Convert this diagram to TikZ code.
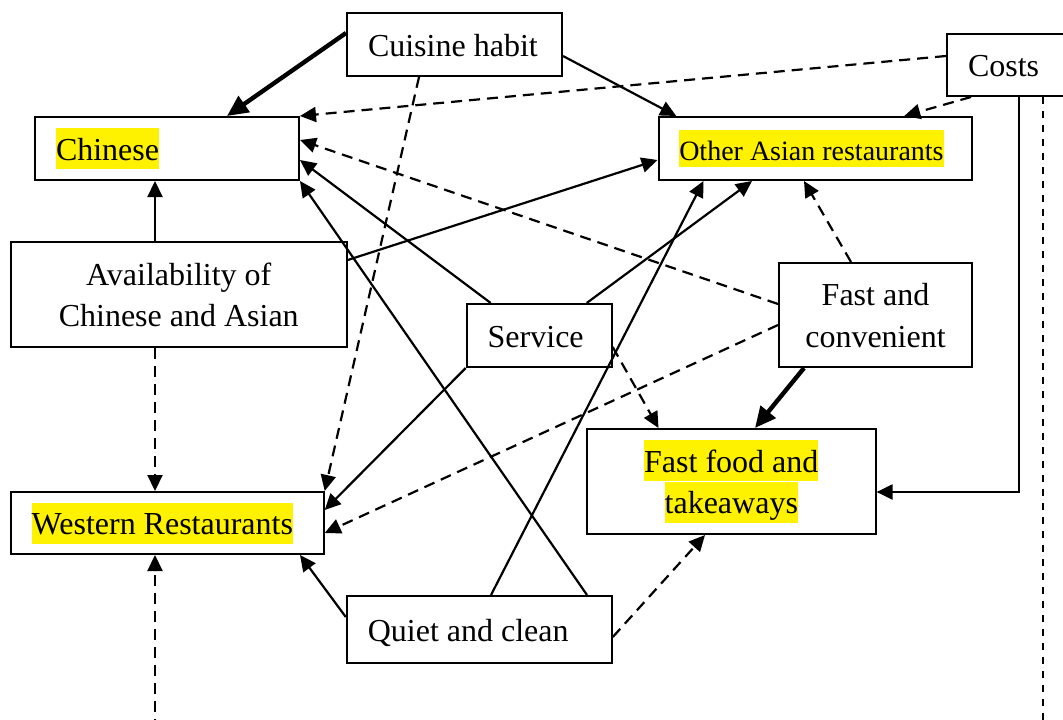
\documentclass[tikz,border=0pt]{standalone}
\usepackage{fontspec}
\setmainfont{Liberation Serif}
\usetikzlibrary{arrows.meta}

% one line of box text: fixed height and depth so every box sets its first baseline alike
\newcommand\sline{\rule[-9pt]{0pt}{41pt}}
% highlighted text (yellow marker)
\newcommand\hlt[1]{{\setlength{\fboxsep}{0pt}\colorbox{yellow}{\sline#1}}}
\newcommand\hlts[1]{{\setlength{\fboxsep}{0pt}\colorbox{yellow}{\rule[-6.7pt]{0pt}{37.7pt}#1}}}

\begin{document}
\begin{tikzpicture}[x=1pt,y=-1pt,
  box/.style={draw, line width=2pt, fill=white, inner sep=0pt, align=flush center,
              font=\fontsize{32}{41.5}\selectfont},
  leftbox/.style={box, align=flush left},
  link/.style={line width=2.2pt, -{Triangle[length=16pt,width=15pt]}},
  strong/.style={line width=4.4pt, -{Triangle[length=21pt,width=19pt]}},
  weak/.style={link, dash pattern=on 11pt off 7pt},
  faint/.style={line width=1.6pt, dash pattern=on 7pt off 7pt},
  ]
\clip (0,0) rectangle (1063,720);
\fill[white] (0,0) rectangle (1063,720);

% factors and restaurant types
\node[leftbox, minimum width=215pt, minimum height=63pt, text width=173pt] (cuisine) at (454.5,44.5) {\sline Cuisine habit};
\node[leftbox, minimum width=133pt, minimum height=62pt, text width=91pt] (costs) at (1013.5,65) {\sline Costs};
\node[leftbox, minimum width=264pt, minimum height=63pt, text width=222pt] (chinese) at (167,148.5) {\hlt{Chinese}};
\node[leftbox, font=\fontsize{28}{36}\selectfont, minimum width=313.5pt, minimum height=63pt, text width=272pt] (other) at (815.25,148.5) {\hlts{Other Asian restaurants}};
\node[box, minimum width=336pt, minimum height=105pt] (avail) at (178.75,294.5) {\sline Availability of\\\sline Chinese and Asian};
\node[leftbox, minimum width=145pt, minimum height=63pt, text width=103pt] (service) at (539.2,335.5) {\sline Service};
\node[box, minimum width=193pt, minimum height=104pt] (fastconv) at (875.5,315) {\sline Fast and\\\sline convenient};
\node[box, minimum width=288.6pt, minimum height=105pt] (fastfood) at (731.3,481.5) {\hlt{Fast food and}\\\hlt{takeaways}};
\node[leftbox, minimum width=313pt, minimum height=62pt, text width=271pt] (western) at (167.2,523) {\hlt{Western Restaurants}};
\node[leftbox, minimum width=265pt, minimum height=67pt, text width=223pt] (quiet) at (479.3,629.5) {\sline Quiet and clean};

% free ends running off the lower edge
\coordinate (costsend) at (1043,730);
\coordinate (westbase) at (155,730);

% influences
\draw[strong] ([yshift=11.5pt]cuisine.west) -- ([xshift=60pt]chinese.north);
\draw[weak] ([yshift=9pt]costs.west) -- (chinese.north east);
\draw[weak] ([xshift=-35.5pt]cuisine.south) -- (western.north east);
\draw[link] ([yshift=-11.5pt]cuisine.east) -- ([xshift=-139pt]other.north);
\draw[weak] ([xshift=25pt]costs.south west) -- ([xshift=89pt]other.north);
\draw[link] ([xshift=5.5pt]costs.south) |- ([yshift=-10.5pt]fastfood.east);
\draw[faint] ([xshift=29.5pt]costs.south) -- (costsend);
\draw[link] ([xshift=-23.75pt]avail.north) -- ([xshift=-12pt]chinese.south);
\draw[link] ([yshift=34.5pt]avail.east) -- ([yshift=-11.5pt]other.west);
\draw[weak] ([xshift=-23.75pt]avail.south) -- ([xshift=-12.2pt]western.north);
\draw[weak] (westbase) -- ([xshift=-12.2pt]western.south);
\draw[weak] ([yshift=11pt]fastconv.west) -- ([yshift=8.5pt]chinese.east);
\draw[link] ([xshift=-48.5pt]service.north) -- ([yshift=-11.5pt]chinese.east);
\draw[link] ([xshift=107.7pt]quiet.north) -- (chinese.south east);
\draw[link] ([xshift=47.5pt]service.north) -- ([xshift=-63.25pt]other.south);
\draw[link] ([xshift=11.7pt]quiet.north) -- ([xshift=-111.75pt]other.south);
\draw[weak] ([xshift=-24.5pt]fastconv.north) -- ([xshift=-11.25pt]other.south);
\draw[weak] ([yshift=-10pt]fastconv.west) -- ([yshift=-10pt]western.east);
\draw[link] (service.south west) -- ([yshift=13pt]western.east);
\draw[weak] ([yshift=-11.5pt]service.east) -- ([xshift=-72.8pt]fastfood.north);
\draw[strong] ([xshift=-71.5pt]fastconv.south) -- ([xshift=23.7pt]fastfood.north);
\draw[weak] ([yshift=-7.5pt]quiet.east) -- ([xshift=-26.3pt]fastfood.south);
\draw[link] ([yshift=12.5pt]quiet.west) -- ([xshift=132.8pt]western.south);
\end{tikzpicture}
\end{document}
